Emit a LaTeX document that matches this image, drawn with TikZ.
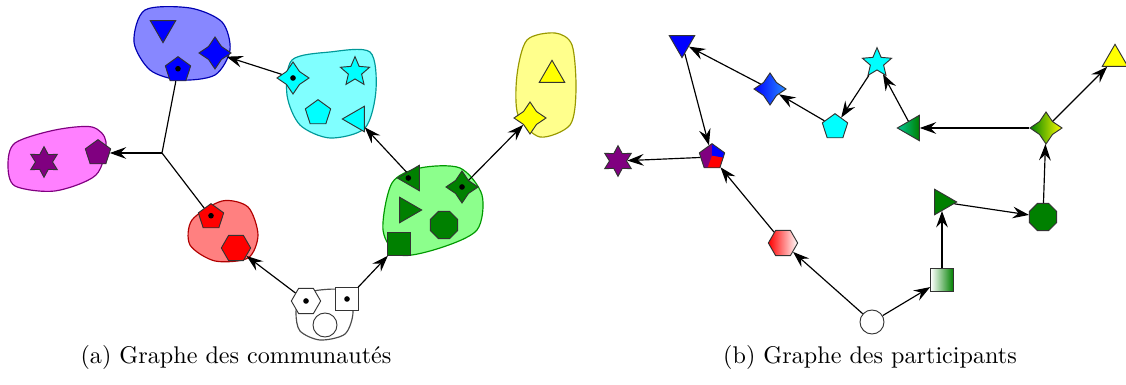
\documentclass[tikz,border=0pt]{standalone}
\usepackage{fontspec}
\usetikzlibrary{shapes,arrows.meta}

\definecolor{pourpre}{RGB}{128,0,128}
\definecolor{vert}{RGB}{0,128,0}
\definecolor{cyan}{RGB}{0,255,255}
\definecolor{magenta}{RGB}{255,0,255}
\definecolor{yellow}{RGB}{255,255,0}
\definecolor{sarcelle}{RGB}{0,200,150}
\definecolor{bleuclair}{RGB}{40,140,255}

\tikzset{
  poly/.style={regular polygon, regular polygon sides=#1, minimum size=0.4cm},
  tri/.style={regular polygon, regular polygon sides=3, minimum size=0.44cm, shape border rotate=#1},
  etoile/.style={star, star points=#1, star point ratio=1.8, minimum size=0.46cm},
  quatre/.style={star, star points=4, star point ratio=1.75, minimum size=0.48cm},
  carre/.style={rectangle, minimum size=0.34cm},
  rond/.style={circle, minimum size=0.36cm},
  pt/.style={path picture={\fill[black] (path picture bounding box.center) circle (1.2pt);}},
  mixte/.style={path picture={
    \fill[pourpre] (path picture bounding box.south west) rectangle (path picture bounding box.north east);
    \fill[blue] (path picture bounding box.center) -- +(90:1cm) -- +(40:1cm) -- +(-10:1cm) -- cycle;
    \fill[red] (path picture bounding box.center) -- +(-10:1cm) -- +(-60:1cm) -- +(-110:1cm) -- cycle;}}
}

\begin{document}
\begin{tikzpicture}[x=0.015cm, y=-0.015cm, every node/.style={draw=black!80, inner sep=0pt, line width=0.4pt}, >={Stealth[length=7pt,width=5pt,inset=2.5pt]}, line width=0.5pt]
  \useasboundingbox (0,0) rectangle (1126,385);

  % communautes
  \draw[blue!70!black, fill=blue!47] plot[smooth cycle] coordinates {(145,10) (190,8) (222,22) (230,50) (215,75) (180,80) (150,70) (134,42)};
  \draw[pourpre, fill=magenta!50] plot[smooth cycle] coordinates {(15,143) (55,130) (92,127) (106,142) (96,175) (55,191) (15,186) (8,165)};
  \draw[cyan!60!black, fill=cyan!50] plot[smooth cycle] coordinates {(292,60) (330,52) (370,52) (376,90) (365,128) (330,138) (300,125) (287,95)};
  \draw[green!60!black, fill=green!45] plot[smooth cycle] coordinates {(392,183) (420,168) (460,168) (482,195) (477,230) (440,248) (400,255) (383,230)};
  \draw[yellow!60!black, fill=yellow!45] plot[smooth cycle] coordinates {(527,40) (555,33) (572,45) (576,90) (570,125) (540,137) (518,115) (517,75)};
  \draw[red!70!black, fill=red!50] plot[smooth cycle] coordinates {(192,220) (222,201) (248,207) (258,235) (248,258) (215,261) (190,245)};
  \draw[black!70, fill=white] plot[smooth cycle] coordinates {(300,296) (320,290) (345,291) (353,312) (345,334) (320,340) (300,331) (296,313)};

  \node[tri=180, fill=blue] (bt) at (163,28) {};
  \node[quatre, fill=blue] (bq) at (215,53) {};
  \node[poly=5, fill=blue, pt] (bp) at (178,70) {};
  \node[etoile=6, fill=pourpre] (ms) at (44,162) {};
  \node[poly=5, fill=pourpre] (mp) at (98,153) {};
  \node[quatre, fill=cyan, pt] (cq) at (293,78) {};
  \node[etoile=5, star point ratio=2.2, fill=cyan] (cs) at (355,72) {};
  \node[poly=5, fill=cyan] (cp) at (318,113) {};
  \node[tri=90, fill=cyan] (ct) at (357,119) {};
  \node[tri=90, fill=vert, pt] (gt) at (412,178) {};
  \node[quatre, fill=vert, pt] (gq) at (462,187) {};
  \node[tri=-90, fill=vert] (gr) at (407,210) {};
  \node[poly=8, fill=vert, minimum size=0.44cm] (go) at (444,225) {};
  \node[carre, fill=vert] (gc) at (399,244) {};
  \node[tri=0, fill=yellow] (yt) at (552,75) {};
  \node[quatre, fill=yellow] (yq) at (530,118) {};
  \node[poly=5, fill=red, pt] (rp) at (211,217) {};
  \node[poly=6, fill=red, minimum size=0.44cm] (rh) at (236,248) {};
  \node[poly=6, fill=white, pt, minimum size=0.44cm] (wh) at (306,301) {};
  \node[carre, fill=white, pt] (wc) at (347,299) {};
  \node[rond, fill=white] (wr) at (325,325) {};
  \coordinate (j) at (162,153);

  \draw[->] (cq) -- (bq);
  \draw[->] (gt) -- (ct);
  \draw[->] (gq) -- (yq);
  \draw[->] (wh) -- (rh);
  \draw[->] (wc) -- (gc);
  \draw (bp) -- (j) (rp) -- (j);
  \draw[->] (j) -- (mp);

  % participants
  \node[tri=180, fill=blue] (bt') at (682,43) {};
  \node[quatre, left color=blue, right color=bleuclair] (bq') at (770,89) {};
  \node[etoile=5, star point ratio=2.2, fill=cyan] (cs') at (877,63) {};
  \node[poly=5, fill=cyan] (cp') at (835,127) {};
  \node[tri=90, left color=sarcelle, right color=green!50!black] (ct') at (912,128) {};
  \node[quatre, left color=vert, right color=yellow] (yq') at (1046,128) {};
  \node[tri=0, fill=yellow] (yt') at (1115,59) {};
  \node[tri=-90, fill=vert] (gr') at (942,202) {};
  \node[poly=8, fill=vert, minimum size=0.44cm] (go') at (1043,217) {};
  \node[carre, left color=white, right color=vert] (gc') at (942,280) {};
  \node[rond, fill=white] (wr') at (872,322) {};
  \node[poly=6, left color=red, right color=white, minimum size=0.44cm] (rh') at (783,243) {};
  \node[poly=5, mixte] (mp') at (712,157) {};
  \node[etoile=6, fill=pourpre] (ms') at (618,161) {};

  \foreach \a/\b in {wr'/rh', wr'/gc', gc'/gr', gr'/go', go'/yq', yq'/yt', yq'/ct', ct'/cs',
                     cs'/cp', cp'/bq', bq'/bt', bt'/mp', rh'/mp', mp'/ms'}
    \draw[->] (\a) -- (\b);

  \begin{scope}[every node/.style={font=\fontsize{10.3}{12}\selectfont}]
    \node at (236,357) {(a) Graphe des communautés};
    \node at (870,357) {(b) Graphe des participants};
  \end{scope}
\end{tikzpicture}
\end{document}
